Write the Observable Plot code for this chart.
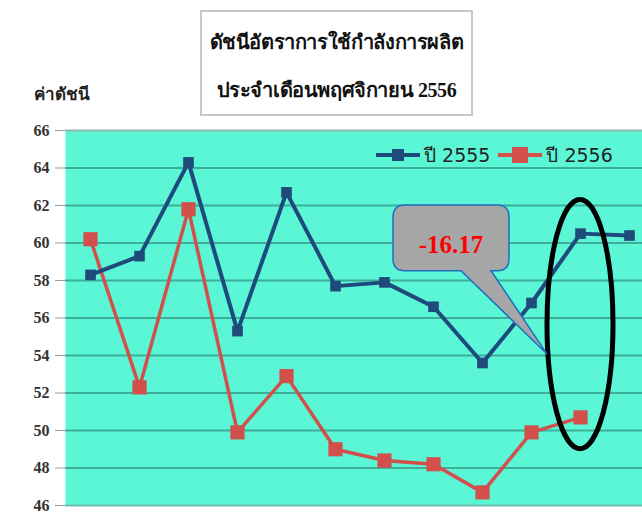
<!DOCTYPE html>
<html>
<head>
<meta charset="utf-8">
<script src="https://cdn.jsdelivr.net/npm/d3@7"></script>
<script src="https://cdn.jsdelivr.net/npm/@observablehq/plot@0.6"></script>
<style>
  html, body { margin: 0; padding: 0; background: #ffffff; overflow: hidden; }
  #wrap { position: relative; width: 642px; height: 515px; overflow: hidden; }
  #title {
    position: absolute; left: 200px; top: 10px; width: 273px; height: 106px;
    border: 2px solid #c8c8c8; background: #fff; box-sizing: border-box;
    font-family: "Liberation Serif", "DejaVu Serif", serif; font-weight: bold;
    font-size: 20px; color: #111; text-align: center; line-height: 48px; padding-top: 6px;
    white-space: nowrap; letter-spacing: -0.4px;
  }
  #ylab {
    position: absolute; left: 34px; top: 80px;
    font-family: "Liberation Serif", "DejaVu Serif", serif; font-weight: bold; font-size: 17px; color: #222;
  }
  #legend {
    position: absolute; top: 140px; left: 376px;
    font-family: "DejaVu Sans", sans-serif; font-size: 19px; color: #222; white-space: nowrap;
    display: flex; align-items: center;
  }
  .sw { display: inline-block; position: relative; width: 44px; height: 16px; margin-right: 4px; }
  .sw .ln { position: absolute; left: 0; right: 0; top: 6px; height: 4px; }
  .sw .mk { position: absolute; }
  #chart { position: absolute; left: 0; top: 0; }
  #chart svg { max-width: none !important; }
</style>
</head>
<body>
<div id="wrap">
  <div id="chart"></div>
  <div id="title">ดัชนีอัตราการใช้กำลังการผลิต<br>ประจำเดือนพฤศจิกายน 2556</div>
  <div id="ylab">ค่าดัชนี</div>
  <div id="legend"></div>
</div>
<script>
const months = ["ม.ค.","ก.พ.","มี.ค.","เม.ย.","พ.ค.","มิ.ย.","ก.ค.","ส.ค.","ก.ย.","ต.ค.","พ.ย.","ธ.ค."];
const series = ["ปี 2555", "ปี 2556"];
const values2555 = [58.3, 59.3, 64.3, 55.3, 62.7, 57.7, 57.9, 56.6, 53.6, 56.8, 60.5, 60.4];
const values2556 = [60.2, 52.3, 61.8, 49.9, 52.9, 49.0, 48.4, 48.2, 46.7, 49.9, 50.7];
const yTicks = [46, 48, 50, 52, 54, 56, 58, 60, 62, 64, 66];
const calloutText = "-16.17";
const calloutMonth = "พ.ย.";

const colors = { "ปี 2555": "#1f4a7c", "ปี 2556": "#d24f4c" };

const data = [
  ...values2555.map((v, i) => ({ month: months[i], value: v, series: series[0] })),
  ...values2556.map((v, i) => ({ month: months[i], value: v, series: series[1] }))
];
const d55 = data.filter(d => d.series === series[0]);
const d56 = data.filter(d => d.series === series[1]);

// legend
const leg = document.getElementById("legend");
series.forEach((s, i) => {
  const item = document.createElement("span");
  item.style.display = "inline-flex"; item.style.alignItems = "center";
  item.style.marginRight = i === 0 ? "8px" : "0";
  const size = i === 0 ? 12 : 16;
  item.innerHTML = `<span class="sw"><span class="ln" style="background:${colors[s]}"></span>` +
    `<span class="mk" style="background:${colors[s]};width:${size}px;height:${size}px;left:${22 - size/2}px;top:${8 - size/2}px"></span></span>${s}`;
  leg.appendChild(item);
});

// decorative callout + ellipse drawn in scale coordinates
function annotations(index, scales, values, dimensions) {
  const ns = "http://www.w3.org/2000/svg";
  const g = document.createElementNS(ns, "g");
  const cx = scales.x(calloutMonth);
  const yTop = scales.y(62.3), yBot = scales.y(49.0);
  const ell = document.createElementNS(ns, "ellipse");
  ell.setAttribute("cx", cx);
  ell.setAttribute("cy", (yTop + yBot) / 2);
  ell.setAttribute("rx", 33);
  ell.setAttribute("ry", (yBot - yTop) / 2);
  ell.setAttribute("fill", "none");
  ell.setAttribute("stroke", "#000");
  ell.setAttribute("stroke-width", 5);
  g.appendChild(ell);

  const bx0 = cx - 187, bx1 = cx - 71, by0 = scales.y(62.0), by1 = scales.y(58.5);
  const tipX = cx - 33, tipY = scales.y(54.05);
  const r = 12;
  const p = document.createElementNS(ns, "path");
  const d = `M${bx0 + r},${by0} L${bx1 - r},${by0} Q${bx1},${by0} ${bx1},${by0 + r} L${bx1},${by1 - r} Q${bx1},${by1} ${bx1 - r},${by1}` +
    ` L${bx0 + 98},${by1} L${tipX},${tipY} L${bx0 + 68},${by1} L${bx0 + r},${by1} Q${bx0},${by1} ${bx0},${by1 - r} L${bx0},${by0 + r} Q${bx0},${by0} ${bx0 + r},${by0} Z`;
  p.setAttribute("d", d);
  p.setAttribute("fill", "#a6a6a6");
  p.setAttribute("stroke", "#1f6fc0");
  p.setAttribute("stroke-width", 1.5);
  g.appendChild(p);
  const t = document.createElementNS(ns, "text");
  t.setAttribute("x", (bx0 + bx1) / 2);
  t.setAttribute("y", by0 + 48);
  t.setAttribute("text-anchor", "middle");
  t.setAttribute("fill", "#ff0000");
  t.setAttribute("font-family", "Liberation Serif, DejaVu Serif, serif");
  t.setAttribute("font-weight", "bold");
  t.setAttribute("font-size", 25);
  t.textContent = calloutText;
  g.appendChild(t);
  return g;
}

const chart = Plot.plot({
  width: 660,
  height: 515,
  marginTop: 130,
  marginBottom: 10,
  marginLeft: 65,
  marginRight: 7,
  style: { background: "transparent", fontFamily: "Liberation Serif, serif" },
  x: { type: "point", domain: months, padding: 0.5, axis: null },
  y: { domain: [46, 66], axis: null },
  marks: [
    Plot.frame({ fill: "#5af6d6", stroke: "none" }),
    Plot.ruleY(yTicks.filter(v => v > 46 && v < 66), { stroke: "#3fae98", strokeWidth: 2 }),
    Plot.ruleY([66], { stroke: "#8fb8b0", strokeWidth: 2 }),
    Plot.ruleY([46], { stroke: "#6fbfae", strokeWidth: 2 }),
    Plot.axisY({
      ticks: yTicks, tickSize: 10, tickPadding: 6, anchor: "left", label: null,
      tickFormat: d => String(d), fontSize: 16, fontWeight: "bold", stroke: "#9a9a9a", fill: "#333"
    }),
    Plot.lineY(d56, { x: "month", y: "value", stroke: colors[series[1]], strokeWidth: 3.5 }),
    Plot.dot(d56, { x: "month", y: "value", symbol: "square", r: 8, fill: colors[series[1]] }),
    Plot.lineY(d55, { x: "month", y: "value", stroke: colors[series[0]], strokeWidth: 4 }),
    Plot.dot(d55, { x: "month", y: "value", symbol: "square", r: 6, fill: colors[series[0]] }),
    annotations
  ]
});
chart.style.maxWidth = "none";
document.getElementById("chart").appendChild(chart);
</script>
</body>
</html>
